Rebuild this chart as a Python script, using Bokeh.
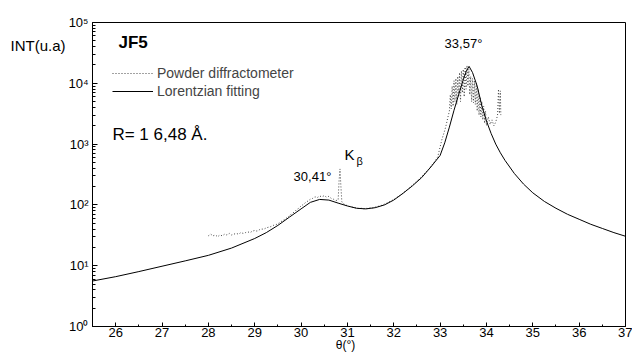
from bokeh.plotting import figure
from bokeh.models import (Range1d, FixedTicker, SingleIntervalTicker, CustomJSTickFormatter,
                          Label, Legend, LegendItem, LogAxis, LinearAxis)
from bokeh.embed import file_html
from bokeh.resources import INLINE

# ---------------- data ----------------
fit_x = [25.5, 26.0, 26.5, 27.0, 27.5, 28.0, 28.5, 29.0, 29.25, 29.5, 29.75, 30.0, 30.2, 30.4,
         30.6, 30.8, 31.0, 31.2, 31.4, 31.6, 31.8, 32.0, 32.2, 32.4, 32.6, 32.8, 33.0, 33.1,
         33.2, 33.3, 33.4, 33.5, 33.56, 33.625, 33.7, 33.8, 33.9, 34.0, 34.1, 34.2, 34.3,
         34.4, 34.6, 34.8, 35.0, 35.25, 35.5, 35.75, 36.0, 36.25, 36.5, 36.75, 37.0]
fit_y = [5.6, 6.6, 8.0, 9.8, 12.0, 14.8, 19.5, 28, 35, 46, 63, 86, 110, 123,
         120, 107, 96, 88, 86, 90, 100, 120, 155, 205, 280, 420, 650, 1050,
         1900, 3600, 6500, 11500, 15500, 19000, 15000, 9000, 4300, 2400, 1500, 1000, 720,
         540, 330, 220, 158, 114, 88, 70, 58, 48, 41, 35, 30.5]

pow_x = [28.00, 28.05, 28.10, 28.15, 28.20, 28.25, 28.30, 28.35, 28.40, 28.45, 28.50, 28.55,
         28.60, 28.65, 28.70, 28.75, 28.80, 28.85, 28.90, 28.95, 29.00, 29.05, 29.10, 29.15,
         29.20, 29.25, 29.30, 29.35, 29.40, 29.45, 29.50, 29.55, 29.60, 29.65, 29.70, 29.75,
         29.80, 29.85, 29.90, 29.95, 30.00, 30.05, 30.10, 30.15, 30.20, 30.25, 30.30, 30.35,
         30.40, 30.45, 30.50, 30.55, 30.60, 30.65, 30.70, 30.75, 30.80, 30.82, 30.84, 30.86,
         30.88, 30.92, 30.96, 31.00, 31.05, 31.10, 31.15, 31.20, 31.25, 31.30, 31.35, 31.40,
         31.45, 31.50, 31.55, 31.60, 31.65, 31.70, 31.75, 31.80, 31.85, 31.90, 31.95, 32.00,
         32.05, 32.10, 32.15, 32.20, 32.25, 32.30, 32.35, 32.40, 32.45, 32.50, 32.55, 32.60,
         32.65, 32.70, 32.75, 32.80, 32.85, 32.90, 32.95, 33.00, 33.04, 33.08, 33.12, 33.16,
         33.20, 33.22, 33.24, 33.26, 33.28, 33.30, 33.32, 33.34, 33.36, 33.38, 33.40, 33.42,
         33.44, 33.46, 33.48, 33.50, 33.52, 33.54, 33.56, 33.58, 33.60, 33.62, 33.64, 33.66,
         33.68, 33.70, 33.72, 33.74, 33.76, 33.78, 33.80, 33.82, 33.84, 33.86, 33.88, 33.90,
         33.92, 33.94, 33.96, 33.98, 34.00, 34.04, 34.08, 34.12, 34.16, 34.20, 34.24, 34.26,
         34.28, 34.30, 34.31]
pow_y = [31, 33, 31, 32, 30, 32, 31, 33, 32, 34, 32, 33,
         34, 33, 35, 34, 35, 36, 35, 37, 38, 37, 39, 40,
         40, 42, 43, 44, 46, 47, 49, 52, 55, 58, 62, 66,
         72, 76, 83, 88, 96, 102, 110, 116, 124, 128, 136, 132,
         140, 136, 142, 134, 138, 128, 124, 118, 120, 250, 390, 200,
         112, 104, 100, 97, 94, 92, 90, 89, 87, 88, 86, 88,
         87, 90, 89, 92, 94, 96, 99, 103, 107, 112, 117, 123,
         130, 138, 146, 156, 168, 180, 194, 210, 228, 248, 268, 292,
         320, 350, 385, 430, 480, 540, 620, 900, 1200, 1500, 1900, 2600,
         3500, 6500, 3800, 9000, 4200, 11000, 5000, 12000, 4500, 13000, 6000, 15000,
         5000, 16000, 7000, 17000, 6000, 18500, 8000, 19500, 9000, 17000, 6500, 13000,
         5000, 12000, 4800, 11000, 4500, 10000, 3500, 8000, 3000, 6000, 2800, 5000,
         2500, 4200, 2200, 3500, 2000, 2800, 2100, 2500, 2000, 2300, 3000, 8000,
         3200, 7500, 3000]

y_major = [1, 10, 100, 1000, 10000, 100000]
y_minor = [m * d for d in y_major[:-1] for m in range(2, 10)]
y_title = "INT(u.a)"
y_title_at = 42000
x_title = "θ(°)"
x_title_at = 30.96

FONT = "Liberation Sans"

p = figure(width=632, height=354, x_range=Range1d(25.5, 37), y_range=Range1d(1, 1e5),
           y_axis_type="log", output_backend="svg", toolbar_location=None,
           min_border_left=92, min_border_right=7, min_border_top=22, min_border_bottom=27)
p.grid.visible = False
p.outline_line_color = "black"
p.outline_line_width = 1
p.background_fill_color = "white"
p.border_fill_color = "white"

# x axis
xa = p.xaxis[0]
xa.ticker = SingleIntervalTicker(interval=1, num_minor_ticks=2)
xa.major_tick_in = 4
xa.major_tick_out = 0
xa.minor_tick_in = 2
xa.minor_tick_out = 0
xa.axis_line_color = "black"
xa.major_tick_line_color = "black"
xa.minor_tick_line_color = "black"
xa.major_label_text_font = FONT
xa.major_label_text_font_size = "13px"
xa.major_label_text_color = "black"
xa.major_label_standoff = 1

# x title as a second, bare axis (stacked below)
xt = LinearAxis(ticker=FixedTicker(ticks=[x_title_at], minor_ticks=[]),
                formatter=CustomJSTickFormatter(code="return '%s';" % x_title),
                axis_line_color=None, major_tick_line_color=None, minor_tick_line_color=None,
                major_tick_in=0, major_tick_out=0, minor_tick_in=0, minor_tick_out=0,
                major_label_standoff=-2, major_label_text_font=FONT,
                major_label_text_font_size="12px", major_label_text_color="black")
p.add_layout(xt, "below")

# y axis
ya = p.yaxis[0]
ya.ticker = FixedTicker(ticks=y_major, minor_ticks=y_minor)
ya.formatter = CustomJSTickFormatter(code="""
const s = ['\u2070','\u00b9','\u00b2','\u00b3','\u2074','\u2075','\u2076'];
const e = Math.round(Math.log10(tick));
return '10' + s[e];
""")
ya.major_tick_in = 5
ya.major_tick_out = 0
ya.minor_tick_in = 3
ya.minor_tick_out = 0
ya.axis_line_color = "black"
ya.major_label_text_font = FONT
ya.major_label_text_font_size = "13px"
ya.major_label_text_color = "black"
ya.major_label_standoff = 4

# y title as a second, bare axis (stacked left)
yt = LogAxis(ticker=FixedTicker(ticks=[y_title_at], minor_ticks=[]),
             formatter=CustomJSTickFormatter(code="return '%s';" % y_title),
             axis_line_color=None, major_tick_line_color=None, minor_tick_line_color=None,
             major_tick_in=0, major_tick_out=0, minor_tick_in=0, minor_tick_out=0,
             major_label_standoff=0, major_label_text_font=FONT,
             major_label_text_font_size="15px", major_label_text_color="black")
p.add_layout(yt, "left")

r_pow = p.line(pow_x, pow_y, line_color="#444444", line_width=1, line_dash="1 2")
r_fit = p.line(fit_x, fit_y, line_color="black", line_width=1)

legend = Legend(items=[LegendItem(label="Powder diffractometer", renderers=[r_pow]),
                       LegendItem(label="Lorentzian fitting", renderers=[r_fit])],
                location=(20, 226), padding=0, margin=0, spacing=0,
                glyph_width=41, glyph_height=18, label_height=18, label_standoff=4,
                label_text_font=FONT, label_text_font_size="14px",
                border_line_alpha=0, background_fill_alpha=0)
p.add_layout(legend)

def lab(x, y, text, size, align="left", style="normal"):
    p.add_layout(Label(x=x, y=y, text=text, text_font=FONT, text_font_size=size,
                       text_align=align, text_baseline="middle", text_font_style=style,
                       text_color="black"))

lab(26.06, 46100, "JF5", "17px", style="bold")
lab(25.93, 1459, "R= 1 6,48 Å.", "17px")
lab(30.246, 293, "30,41°", "13px", align="center")
lab(33.504, 45300, "33,57°", "13px", align="center")
lab(30.937, 673, "K", "15px")
lab(31.196, 526, "β", "11px")

open("out.html", "w", encoding="utf-8").write(file_html(p, INLINE))
